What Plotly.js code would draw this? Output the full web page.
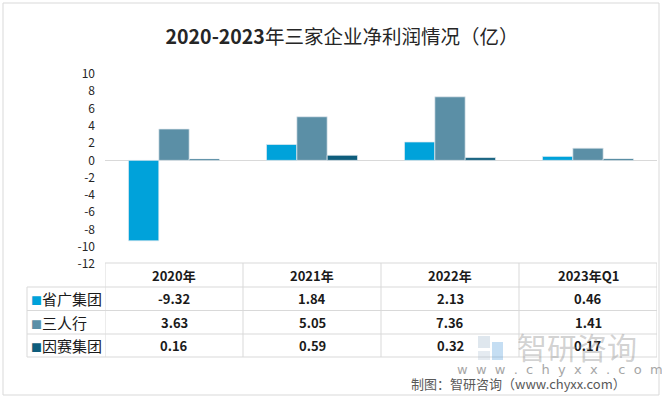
<!DOCTYPE html>
<html>
<head>
<meta charset="utf-8">
<script src="https://cdn.plot.ly/plotly-3.0.1.min.js"></script>
<style>html,body{margin:0;padding:0;background:#fff;}#chart{width:662px;height:398px;}</style>
</head>
<body>
<div id="chart"></div>
<script>
const categories = ['2020年', '2021年', '2022年', '2023年Q1'];
const seriesNames = ['省广集团', '三人行', '因赛集团'];
const shengguang = [-9.32, 1.84, 2.13, 0.46];
const sanrenxing = [3.63, 5.05, 7.36, 1.41];
const yinsai = [0.16, 0.59, 0.32, 0.17];
const yTicks = [-12, -10, -8, -6, -4, -2, 0, 2, 4, 6, 8, 10];

const colors = ['#00a2da', '#5b8fa6', '#0e5d7c'];
const seriesValues = [shengguang, sanrenxing, yinsai];
const FONT = '"Noto Sans CJK SC", "Noto Sans", sans-serif';

// pixel -> paper helpers (plot area: x 27..657, y 74..357)
const W = 662, H = 398, ML = 27, MR = 5, MT = 74, MB = 41;
const PW = W - ML - MR, PH = H - MT - MB;
const px = p => (p - ML) / PW;
const py = p => (H - MB - p) / PH;

const barTraces = seriesValues.map((vals, i) => ({
  type: 'bar',
  name: seriesNames[i],
  x: categories,
  y: vals,
  marker: {color: colors[i], line: {color: 'rgba(230,235,240,0.9)', width: 0.8}},
  xaxis: 'x', yaxis: 'y',
  hoverinfo: 'x+y+name'
}));

// table geometry (pixels)
const rowLines = [263, 287, 310.5, 334, 357];
const headerY = (rowLines[0] + rowLines[1]) / 2;
const rowCenters = [1, 2, 3].map(k => (rowLines[k] + rowLines[k + 1]) / 2);
const gridColor = '#d9d9d9';

const shapes = [];
// outer border
shapes.push({type: 'rect', xref: 'paper', yref: 'paper',
  x0: px(3), x1: px(659), y0: py(395), y1: py(3),
  line: {color: gridColor, width: 1}, fillcolor: 'rgba(0,0,0,0)', layer: 'below'});
// horizontal table lines
rowLines.forEach((y, k) => {
  shapes.push({type: 'line', xref: 'paper', yref: 'paper',
    x0: k === 0 ? px(105) : px(27), x1: px(657), y0: py(y), y1: py(y),
    line: {color: gridColor, width: 1}});
});
// vertical table lines at category boundaries
for (let j = 0; j <= categories.length; j++) {
  shapes.push({type: 'line', xref: 'x', yref: 'paper',
    x0: j - 0.5, x1: j - 0.5, y0: py(rowLines[0]), y1: py(rowLines[4]),
    line: {color: gridColor, width: 1}});
}
shapes.push({type: 'line', xref: 'paper', yref: 'paper',
  x0: px(27), x1: px(27), y0: py(rowLines[1]), y1: py(rowLines[4]),
  line: {color: gridColor, width: 1}});
// watermark logo blocks
shapes.push({type: 'rect', xref: 'paper', yref: 'paper',
  x0: px(478), x1: px(490), y0: py(348), y1: py(336),
  line: {width: 0}, fillcolor: 'rgba(150,175,200,0.3)', layer: 'above'});
shapes.push({type: 'rect', xref: 'paper', yref: 'paper',
  x0: px(492), x1: px(503), y0: py(360), y1: py(342),
  line: {width: 0}, fillcolor: 'rgba(90,160,220,0.35)', layer: 'above'});
shapes.push({type: 'rect', xref: 'paper', yref: 'paper',
  x0: px(478), x1: px(490), y0: py(360), y1: py(351),
  line: {width: 0}, fillcolor: 'rgba(150,175,200,0.25)', layer: 'above'});

const annotations = [];
// header
categories.forEach(c => annotations.push({
  text: '<b>' + c + '</b>', xref: 'x', yref: 'paper', x: c, y: py(headerY),
  xanchor: 'center', yanchor: 'middle', showarrow: false,
  font: {family: FONT, size: 13, color: '#1a1a1a'}}));
// series labels and values
seriesNames.forEach((n, i) => {
  annotations.push({
    text: '<span style="color:' + colors[i] + ';font-size:11px">■</span>' + n,
    xref: 'paper', yref: 'paper', x: px(29), y: py(rowCenters[i]),
    xanchor: 'left', yanchor: 'middle', showarrow: false,
    font: {family: FONT, size: 15, color: '#1a1a1a'}});
  categories.forEach((c, j) => annotations.push({
    text: '<b>' + seriesValues[i][j].toFixed(2) + '</b>',
    xref: 'x', yref: 'paper', x: c, y: py(rowCenters[i]),
    xanchor: 'center', yanchor: 'middle', showarrow: false,
    font: {family: FONT, size: 13, color: '#1a1a1a'}}));
});
// watermark + source
annotations.push({text: 'w  w  w  .  c  h  y  x  x  .  c  o  m', xref: 'paper', yref: 'paper',
  x: px(560), y: py(369), xanchor: 'center', yanchor: 'middle', showarrow: false,
  font: {family: '"DejaVu Sans", sans-serif', size: 13, color: '#a6a6a6'}});
annotations.push({text: '智研咨询', xref: 'paper', yref: 'paper',
  x: px(577), y: py(346), xanchor: 'center', yanchor: 'middle', showarrow: false,
  font: {family: FONT, size: 30, color: 'rgba(140,140,140,0.4)'}});
annotations.push({text: '制图：智研咨询（www.chyxx.com）', xref: 'paper', yref: 'paper',
  x: px(628), y: py(383), xanchor: 'right', yanchor: 'middle', showarrow: false,
  font: {family: FONT, size: 13, color: '#595959'}});

const layout = {
  width: W, height: H,
  margin: {l: ML, r: MR, t: MT, b: MB},
  paper_bgcolor: 'white', plot_bgcolor: 'white',
  showlegend: false,
  font: {family: FONT, color: '#262626'},
  title: {
    text: '<b>2020-2023</b>年三家企业净利润情况（亿）',
    x: 0.5, xref: 'paper', xanchor: 'center',
    y: 1 - 37 / H, yref: 'container', yanchor: 'middle',
    font: {family: FONT, size: 19.5, color: '#262626'}
  },
  barmode: 'group',
  bargap: 0.34,
  bargroupgap: 0,
  xaxis: {
    domain: [px(105), 1],
    range: [-0.5, categories.length - 0.5],
    showticklabels: false, showgrid: false, zeroline: false, showline: false,
    ticks: '', fixedrange: true
  },
  yaxis: {
    domain: [py(264), 1],
    range: [-12, 10],
    tickvals: yTicks,
    ticktext: yTicks.map(String),
    showgrid: false, showline: false,
    zeroline: true, zerolinecolor: gridColor, zerolinewidth: 1.5,
    ticks: '', ticklabelstandoff: 9,
    tickfont: {family: FONT, size: 12, color: '#262626'},
    fixedrange: true
  },
  shapes: shapes,
  annotations: annotations
};

Plotly.newPlot('chart', barTraces, layout, {displayModeBar: false, staticPlot: true});
</script>
</body>
</html>
